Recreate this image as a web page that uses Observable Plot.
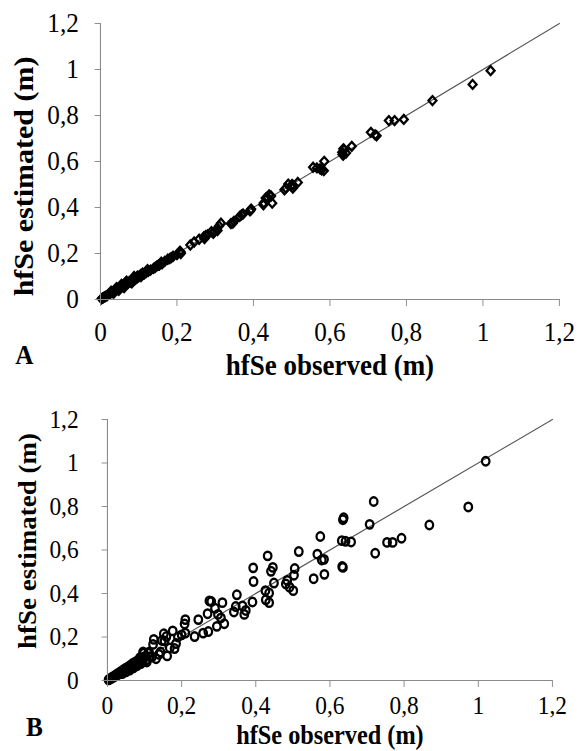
<!DOCTYPE html>
<html>
<head>
<meta charset="utf-8">
<script src="https://cdn.jsdelivr.net/npm/d3@7"></script>
<script src="https://cdn.jsdelivr.net/npm/@observablehq/plot@0.6"></script>
<style>
  html, body { margin: 0; padding: 0; background: white; }
  #wrap { position: relative; width: 579px; height: 751px; overflow: hidden; background: white; }
  #wrap svg { position: absolute; left: 0; display: block; }
</style>
</head>
<body>
<div id="wrap"></div>
<script>
// ---- data ----
const observed = [
  1.020, 0.973, 0.868, 0.793, 0.769, 0.754, 0.707, 0.718, 0.722, 0.657,
  0.637, 0.635, 0.632, 0.642, 0.633, 0.635, 0.585, 0.574, 0.566, 0.578,
  0.584, 0.556, 0.516, 0.505, 0.503, 0.501, 0.491, 0.481, 0.485, 0.449,
  0.446, 0.441, 0.432, 0.436, 0.436, 0.426, 0.427, 0.393, 0.394, 0.391,
  0.369, 0.364, 0.349, 0.346, 0.341, 0.373, 0.310, 0.315, 0.306, 0.298,
  0.295, 0.290, 0.280, 0.275, 0.270, 0.272, 0.258, 0.245, 0.235, 0.210,
  0.208, 0.210, 0.200, 0.176, 0.181, 0.159, 0.161, 0.154, 0.123, 0.131,
  0.143, 0.096, 0.091, 0.106, 0.125, 0.147, 0.152, 0.190, 0.185, 0.168,
  0.139, 0.115, 0.110, 0.100, 0.105, 0.095, 0.088, 0.085, 0.082, 0.078,
  0.075, 0.072, 0.068, 0.065, 0.062, 0.058, 0.055, 0.052, 0.048, 0.045,
  0.042, 0.038, 0.035, 0.032, 0.028, 0.025, 0.022, 0.018, 0.015, 0.012,
  0.010, 0.007, 0.005, 0.003, 0.060, 0.070, 0.080, 0.090, 0.050, 0.040,
  0.098, 0.120, 0.112
];
const estimatedA = [
  0.995, 0.935, 0.865, 0.783, 0.778, 0.778, 0.727, 0.716, 0.712, 0.666,
  0.652, 0.655, 0.640, 0.637, 0.630, 0.628, 0.601, 0.568, 0.572, 0.564,
  0.560, 0.575, 0.509, 0.495, 0.484, 0.500, 0.502, 0.477, 0.484, 0.419,
  0.450, 0.455, 0.441, 0.440, 0.445, 0.412, 0.420, 0.390, 0.393, 0.385,
  0.368, 0.361, 0.340, 0.332, 0.330, 0.372, 0.320, 0.332, 0.300, 0.295,
  0.288, 0.295, 0.281, 0.278, 0.272, 0.265, 0.262, 0.250, 0.237, 0.205,
  0.210, 0.200, 0.195, 0.175, 0.178, 0.162, 0.155, 0.150, 0.130, 0.128,
  0.140, 0.100, 0.088, 0.100, 0.122, 0.145, 0.150, 0.188, 0.182, 0.166,
  0.135, 0.112, 0.115, 0.098, 0.108, 0.092, 0.100, 0.082, 0.072, 0.076,
  0.078, 0.070, 0.080, 0.062, 0.052, 0.056, 0.066, 0.050, 0.040, 0.043,
  0.052, 0.037, 0.028, 0.030, 0.036, 0.024, 0.024, 0.017, 0.016, 0.011,
  0.011, 0.007, 0.006, 0.003, 0.060, 0.072, 0.078, 0.094, 0.052, 0.042,
  0.102, 0.118, 0.110
];
const estimatedB = [
  1.008, 0.798, 0.715, 0.654, 0.635, 0.635, 0.718, 0.823, 0.585, 0.637,
  0.748, 0.739, 0.643, 0.640, 0.524, 0.520, 0.488, 0.662, 0.581, 0.554,
  0.557, 0.468, 0.593, 0.515, 0.484, 0.413, 0.429, 0.444, 0.460, 0.448,
  0.520, 0.502, 0.573, 0.402, 0.358, 0.413, 0.371, 0.518, 0.455, 0.361,
  0.304, 0.343, 0.394, 0.340, 0.315, 0.322, 0.358, 0.261, 0.288, 0.304,
  0.249, 0.332, 0.363, 0.366, 0.307, 0.225, 0.218, 0.280, 0.202, 0.280,
  0.260, 0.218, 0.210, 0.228, 0.147, 0.202, 0.113, 0.182, 0.166, 0.100,
  0.131, 0.131, 0.100, 0.085, 0.189, 0.184, 0.215, 0.200, 0.170, 0.150,
  0.120, 0.110, 0.125, 0.110, 0.095, 0.090, 0.105, 0.080, 0.092, 0.075,
  0.085, 0.068, 0.078, 0.062, 0.070, 0.055, 0.062, 0.050, 0.055, 0.042,
  0.048, 0.036, 0.040, 0.030, 0.032, 0.023, 0.025, 0.017, 0.018, 0.011,
  0.012, 0.007, 0.006, 0.003, 0.048, 0.058, 0.068, 0.078, 0.040, 0.032,
  0.125, 0.108, 0.130
];
const axisTicks = [0, 0.2, 0.4, 0.6, 0.8, 1, 1.2];
const tickLabels = ["0", "0,2", "0,4", "0,6", "0,8", "1", "1,2"];
const oneToOne = [0, 1.2];
const xTitle = "hfSe observed (m)";
const yTitle = "hfSe estimated (m)";
const panelLetters = ["A", "B"];

// ---- drawing ----
const S = 0.9;                 // horizontal squeeze of the reference figure
const W = 579, WI = W / S;     // displayed and internal widths
const FONT = "'Liberation Serif', 'Times New Roman', 'DejaVu Serif', serif";
const idx = d3.range(observed.length);

function panel(cfg) {
  const svg = Plot.plot({
    width: WI,
    height: cfg.H,
    marginLeft: cfg.ml, marginRight: cfg.mr, marginTop: cfg.mt, marginBottom: cfg.mb,
    style: {fontFamily: FONT, color: "black", background: "transparent"},
    x: {domain: [0, 1.2], label: null},
    y: {domain: [0, 1.2], label: null},
    marks: [
      Plot.line(oneToOne, {x: d => d, y: d => d, stroke: "#555", strokeWidth: 1.2}),
      Plot.dot(idx, {
        x: i => observed[i], y: i => cfg.est[i],
        symbol: cfg.symbol, r: cfg.r, stroke: "black", strokeWidth: cfg.sw, fill: "none"
      }),
      Plot.ruleX([0], {stroke: "#8a8a8a", strokeWidth: 1.2}),
      Plot.ruleY([0], {stroke: "#8a8a8a", strokeWidth: 1.2}),
      Plot.axisX(axisTicks, {
        tickFormat: (d, i) => tickLabels[i], tickSize: 7, tickPadding: cfg.padX,
        fontSize: cfg.tickFont, fontFamily: FONT, stroke: "#8a8a8a", fill: "black", label: null
      }),
      Plot.axisY(axisTicks, {
        tickFormat: (d, i) => tickLabels[i], tickSize: 6, tickPadding: cfg.padY,
        fontSize: cfg.tickFont, fontFamily: FONT, stroke: "#8a8a8a", fill: "black", label: null
      }),
      Plot.text([yTitle], {
        text: d => d, frameAnchor: "left", textAnchor: "middle", rotate: -90,
        dx: cfg.ytDx, dy: cfg.ytDy,
        fontSize: cfg.titleFont, fontFamily: FONT, fontWeight: "bold", fill: "black"
      }),
      Plot.text([xTitle], {
        text: d => d, frameAnchor: "bottom", textAnchor: "middle", dy: cfg.xtDy,
        fontSize: cfg.titleFont, fontFamily: FONT, fontWeight: "bold", fill: "black"
      }),
      Plot.text([cfg.letter], {
        text: d => d, frameAnchor: "bottom-left", dx: cfg.lDx, dy: cfg.lDy,
        textAnchor: "middle", fontSize: cfg.letterFont, fontFamily: FONT, fontWeight: "bold", fill: "black"
      })
    ]
  });
  svg.setAttribute("width", W);
  svg.setAttribute("height", cfg.H);
  svg.setAttribute("preserveAspectRatio", "none");
  svg.style.width = W + "px";
  svg.style.height = cfg.H + "px";
  svg.style.maxWidth = "none";
  svg.style.top = cfg.top + "px";
  return svg;
}

const wrap = document.getElementById("wrap");
wrap.appendChild(panel({
  est: estimatedA, symbol: "diamond2", r: 4.0, sw: 2.4,
  top: 0, H: 395, ml: 100 / S, mr: WI - 559 / S, mt: 23, mb: 96,
  tickFont: 28, padX: 15, padY: 18, titleFont: 30, letterFont: 28,
  ytDx: 24 / S - 100 / S, ytDy: 15, xtDy: 75,
  letter: panelLetters[0], lDx: 24 / S - 100 / S, lDy: 64
}));
wrap.appendChild(panel({
  est: estimatedB, symbol: "circle", r: 4.2, sw: 2.5,
  top: 395, H: 356, ml: 107 / S, mr: WI - 552 / S, mt: 24, mb: 71,
  tickFont: 26, padX: 8, padY: 26, titleFont: 27, letterFont: 28,
  ytDx: 28 / S - 107 / S, ytDy: -9, xtDy: 63,
  letter: panelLetters[1], lDx: 34 / S - 107 / S, lDy: 55
}));
</script>
</body>
</html>
